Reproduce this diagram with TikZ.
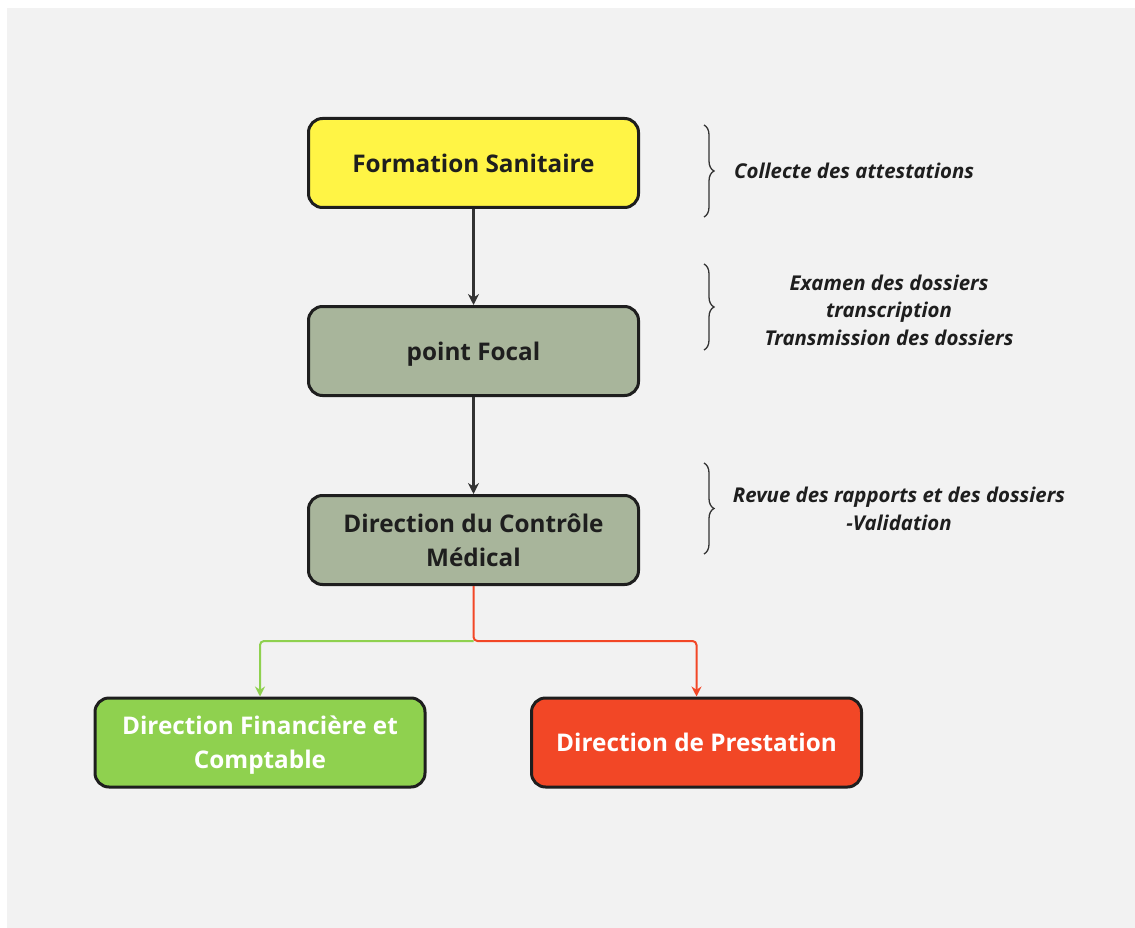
\documentclass[tikz,border=0pt]{standalone}
\usepackage{fontspec}
\setmainfont{Open Sans}
\usetikzlibrary{arrows.meta,decorations.pathreplacing}
\definecolor{bg}{HTML}{F2F2F2}
\definecolor{yel}{HTML}{FFF445}
\definecolor{sage}{HTML}{A8B59B}
\definecolor{grn}{HTML}{8FD14F}
\definecolor{rd}{HTML}{F24726}
\definecolor{ink}{HTML}{1E1E1E}
\definecolor{arr}{HTML}{333333}
\begin{document}
\begin{tikzpicture}[x=1pt,y=-1pt,
  box/.style={draw=ink, line width=3pt, rounded corners=14pt, minimum width=330pt, minimum height=89pt, align=center, font=\fontsize{24.3}{34}\selectfont\bfseries, text=ink, inner sep=0pt, text depth=0pt},
  note/.style={font=\fontsize{20.4}{27.5}\selectfont\bfseries\itshape, text=ink, align=center, inner sep=0pt},
  brc/.style={decorate, decoration={brace, amplitude=10pt}, draw=arr, line width=1.3pt},
  link/.style={line width=2.2pt, draw=arr, -{Stealth[length=11pt,width=11pt]}},
  clink/.style={line width=2pt, rounded corners=4pt, -{Stealth[length=10pt,width=10pt]}}
]
\fill[white] (0,0) rectangle (1135,928);
\fill[bg] (7,8) rectangle (1135,928);
\useasboundingbox (0,0) rectangle (1135,928);

\node[box, fill=yel] (fs) at (473.5,163) {Formation Sanitaire};
\node[box, fill=sage] (pf) at (473.5,351) {point Focal};
\node[box, fill=sage] (dcm) at (473.5,540) {Direction du Contrôle\\Médical};
\node[box, fill=grn, text=white] (dfc) at (260,742.5) {Direction Financière et\\Comptable};
\node[box, fill=rd, text=white] (dp) at (696.5,742.5) {Direction de Prestation};

\draw[link] (fs) -- (pf);
\draw[link] (pf) -- (dcm);
\coordinate (split) at (473.5,641);
\draw[clink, draw=grn] (split) -| (dfc.north);
\draw[clink, draw=rd] (dcm.south) -- (split) -| (dp.north);

\draw[brc] (704,125) -- (704,217);
\draw[brc] (704,264) -- (704,350);
\draw[brc] (704,463) -- (704,554);

\node[note, anchor=west] (n1) at (734,171) {Collecte des attestations};
\node[note] (n2) at (889,310) {Examen des dossiers\\transcription\\Transmission des dossiers};
\node[note] (n3) at (899,509) {Revue des rapports et des dossiers\\-Validation};
\end{tikzpicture}
\end{document}
